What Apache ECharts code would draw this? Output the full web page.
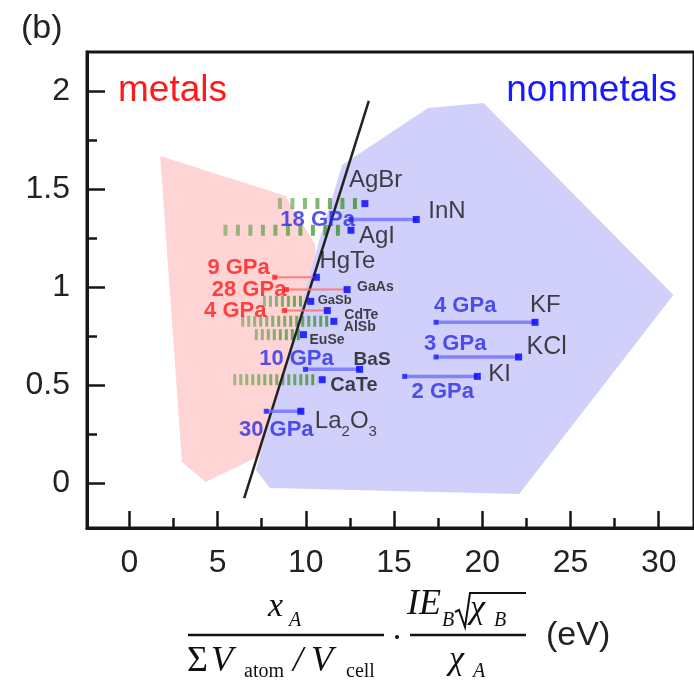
<!DOCTYPE html>
<html>
<head>
<meta charset="utf-8">
<script src="https://cdn.jsdelivr.net/npm/echarts@6/dist/echarts.min.js"></script>
<style>
  html, body { margin: 0; padding: 0; background: #fff; }
  #chart { width: 694px; height: 680px; }
</style>
</head>
<body>
<div id="chart"></div>
<script>
// Compounds plotted at their descriptor value (x, eV) and ordinate (y)
const compounds   = ['AgBr', 'InN', 'AgI', 'HgTe', 'GaAs', 'GaSb', 'CdTe', 'AlSb', 'EuSe', 'BaS', 'CaTe', 'La2O3', 'KF', 'KCl', 'KI'];
const descriptorX = [13.35, 16.26, 12.56, 10.60, 12.34, 10.28, 11.22, 11.59, 9.87, 13.05, 10.93, 9.72, 22.99, 22.06, 19.72];
const ordinateY   = [1.426, 1.345, 1.290, 1.050, 0.987, 0.927, 0.880, 0.825, 0.757, 0.580, 0.527, 0.366, 0.820, 0.643, 0.544];

// Descriptor shift under pressure: starting x and pressure reached
const shiftCompounds   = ['InN', 'HgTe', 'GaAs', 'CdTe', 'BaS', 'La2O3', 'KF', 'KCl', 'KI'];
const shiftStartX      = [12.56, 8.24, 8.90, 8.79, 9.98, 7.76, 17.38, 17.38, 15.60];
const shiftPressureGPa = [18, 9, 28, 4, 10, 30, 4, 3, 2];
const shiftMetallic    = [false, true, true, true, false, false, false, false, false];

// Spread of descriptor values (hatched ranges)
const rangeCompounds = ['AgBr', 'AgI', 'GaSb', 'AlSb', 'EuSe', 'CaTe'];
const rangeStartX    = [8.42, 5.33, 7.57, 6.34, 7.11, 5.89];
const rangeEndX      = [12.90, 12.17, 9.93, 11.38, 9.70, 10.66];

// Metal / nonmetal dividing line
const boundaryX = [6.51, 13.57];
const boundaryY = [-0.077, 1.95];

// Shaded regions
const metalsRegionX    = [1.75, 8.86, 10.54, 10.54, 6.90, 4.32, 2.98];
const metalsRegionY    = [1.669, 1.465, 1.215, 0.271, 0.117, 0.005, 0.107];
const nonmetalsRegionX = [12.06, 16.93, 20.07, 30.83, 22.09, 7.97, 7.18, 10.77];
const nonmetalsRegionY = [1.623, 1.914, 1.940, 0.960, -0.056, -0.026, 0.066, 1.240];

// Axis ticks
const xMajorTicks = [0, 5, 10, 15, 20, 25, 30];
const xMinorTicks = [2.5, 7.5, 12.5, 17.5, 22.5, 27.5];
const yMajorTicks = [0, 0.5, 1, 1.5, 2];
const yMinorTicks = [0.25, 0.75, 1.25, 1.75];

const SANS = '"Liberation Sans", Arial, sans-serif';
const SERIF = '"Liberation Serif", "Times New Roman", serif';
const INK = '#161616';
const RED = '#ff1a1a';
const BLUE = '#1a1aff';

// Label placement around each compound marker (pixels)
const nameLayout = {
  AgBr:  { dx: -16, dy: -23, size: 24 },
  InN:   { dx: 12,  dy: -8,  size: 24 },
  AgI:   { dx: 8,   dy: 6,   size: 24 },
  HgTe:  { dx: 3,   dy: -16, size: 24 },
  GaAs:  { dx: 10,  dy: -2,  size: 14, bold: true },
  GaSb:  { dx: 7,   dy: -1,  size: 13, bold: true },
  CdTe:  { dx: 17,  dy: 5,   size: 14, bold: true },
  AlSb:  { dx: 10,  dy: 6,   size: 14, bold: true },
  EuSe:  { dx: 6,   dy: 5,   size: 14, bold: true },
  BaS:   { dx: -6,  dy: -10, size: 19, bold: true },
  CaTe:  { dx: 8,   dy: 6,   size: 20, bold: true },
  La2O3: { dx: 14,  dy: 10,  size: 24 },
  KF:    { dx: -5,  dy: -17, size: 24 },
  KCl:   { dx: 8,   dy: -10, size: 25 },
  KI:    { dx: 11,  dy: -2,  size: 24 }
};
// Pressure label placement relative to the start of each shift
const pressureLayout = {
  InN:   { align: 'right',  dx: 4,   dy: 0 },
  HgTe:  { align: 'right',  dx: -5,  dy: -9 },
  GaAs:  { align: 'right',  dx: 0,   dy: 0 },
  CdTe:  { align: 'right',  dx: -18, dy: 0 },
  BaS:   { align: 'center', dx: -9,  dy: -10 },
  La2O3: { align: 'center', dx: 10,  dy: 19 },
  KF:    { align: 'left',   dx: -2,  dy: -16 },
  KCl:   { align: 'left',   dx: -12, dy: -13 },
  KI:    { align: 'left',   dx: 7,   dy: 16 }
};
const sparseHatch = new Set(['AgBr', 'AgI']);

const yOf = name => ordinateY[compounds.indexOf(name)];
const zip = (xs, ys) => xs.map((x, i) => [x, ys[i]]);

function regionSeries(xs, ys, fill) {
  const pts = zip(xs, ys);
  return {
    type: 'custom', coordinateSystem: 'cartesian2d', silent: true, z: 1,
    data: pts,
    renderItem(params, api) {
      if (params.dataIndex !== 0) return;
      return { type: 'polygon', shape: { points: pts.map(p => api.coord(p)) }, style: { fill } };
    }
  };
}

const compoundData = compounds.map((name, i) => {
  const L = nameLayout[name];
  const isLa = name === 'La2O3';
  return {
    name, value: [descriptorX[i], ordinateY[i]],
    label: {
      show: true, position: 'inside', align: 'left', verticalAlign: 'middle',
      offset: [L.dx, L.dy], color: INK, fontFamily: SANS,
      fontSize: L.size, fontWeight: L.bold ? 'bold' : 'normal',
      formatter: isLa ? '{m|La}{s|2}{m|O}{s|3}' : name,
      rich: isLa ? {
        m: { fontSize: 24, fontFamily: SANS, color: INK, lineHeight: 28 },
        s: { fontSize: 15, fontFamily: SANS, color: INK, lineHeight: 15, verticalAlign: 'bottom', padding: [0, 0, -4, 0] }
      } : undefined
    }
  };
});

const shiftStartData = shiftCompounds.map((name, i) => {
  const L = pressureLayout[name];
  return {
    name, value: [shiftStartX[i], yOf(name)],
    itemStyle: { color: shiftMetallic[i] ? RED : BLUE },
    label: {
      show: true, position: 'inside', align: L.align, verticalAlign: 'middle',
      offset: [L.dx, L.dy], fontFamily: SANS, fontSize: 22, fontWeight: 'bold',
      color: shiftMetallic[i] ? RED : '#2a2ae8',
      formatter: shiftPressureGPa[i] + ' GPa'
    }
  };
});

const chart = echarts.init(document.getElementById('chart'), null, { renderer: 'canvas' });

const tickStyle = { color: INK, width: 2.5 };
const xBase = { type: 'value', min: -2.4, max: 32, splitLine: { show: false } };
const yBase = { type: 'value', min: -0.23, max: 2.2, splitLine: { show: false } };

chart.setOption({
  animation: false,
  backgroundColor: '#fff',
  grid: { left: 87, top: 52, width: 614, height: 476, show: true, borderColor: INK, borderWidth: 3, backgroundColor: 'transparent' },
  xAxis: [
    Object.assign({}, xBase, {
      position: 'bottom',
      axisLine: { show: true, onZero: false, lineStyle: { color: INK, width: 3 } },
      axisTick: { show: true, inside: true, length: 17, customValues: xMajorTicks, lineStyle: tickStyle },
      axisLabel: { customValues: xMajorTicks, fontSize: 32, color: '#222', fontFamily: SANS, margin: 19 }
    }),
    Object.assign({}, xBase, {
      position: 'bottom', offset: 0,
      axisLine: { show: false, onZero: false },
      axisTick: { show: true, inside: true, length: 10, customValues: xMinorTicks, lineStyle: tickStyle },
      axisLabel: { show: false }
    })
  ],
  yAxis: [
    Object.assign({}, yBase, {
      position: 'left',
      axisLine: { show: true, onZero: false, lineStyle: { color: INK, width: 3 } },
      axisTick: { show: true, inside: true, length: 18, customValues: yMajorTicks, lineStyle: tickStyle },
      axisLabel: { customValues: yMajorTicks, fontSize: 32, color: '#222', fontFamily: SANS, margin: 17 }
    }),
    Object.assign({}, yBase, {
      position: 'left', offset: 0,
      axisLine: { show: false, onZero: false },
      axisTick: { show: true, inside: true, length: 10, customValues: yMinorTicks, lineStyle: tickStyle },
      axisLabel: { show: false }
    })
  ],
  series: [
    regionSeries(metalsRegionX, metalsRegionY, '#ffd4d4'),
    regionSeries(nonmetalsRegionX, nonmetalsRegionY, '#d0d0fa'),
    {
      // hatched ranges
      type: 'custom', coordinateSystem: 'cartesian2d', silent: true, z: 2,
      data: rangeCompounds.map((name, i) => [rangeStartX[i], rangeEndX[i], yOf(name)]),
      renderItem(params, api) {
        const name = rangeCompounds[params.dataIndex];
        const a = api.coord([api.value(0), api.value(2)]);
        const b = api.coord([api.value(1), api.value(2)]);
        const sparse = sparseHatch.has(name);
        return {
          type: 'line',
          shape: { x1: a[0], y1: a[1], x2: b[0], y2: b[1] },
          style: {
            stroke: {
              type: 'linear', x: 0, y: 0, x2: 1, y2: 0,
              colorStops: [{ offset: 0, color: 'rgba(92,160,70,0.55)' }, { offset: 1, color: 'rgba(70,150,60,0.9)' }]
            },
            lineWidth: 11,
            lineDash: sparse ? [4, 8.5] : [3, 3],
            lineCap: 'butt'
          }
        };
      }
    },
    {
      // metal / nonmetal boundary
      type: 'line', z: 3, silent: true, symbol: 'none',
      data: zip(boundaryX, boundaryY),
      lineStyle: { color: '#222', width: 2.5 }
    },
    {
      // pressure shift lines
      type: 'custom', coordinateSystem: 'cartesian2d', silent: true, z: 4,
      data: shiftCompounds.map((name, i) => [shiftStartX[i], descriptorX[compounds.indexOf(name)], yOf(name)]),
      renderItem(params, api) {
        const metallic = shiftMetallic[params.dataIndex];
        const a = api.coord([api.value(0), api.value(2)]);
        const b = api.coord([api.value(1), api.value(2)]);
        return {
          type: 'line',
          shape: { x1: a[0], y1: a[1], x2: b[0], y2: b[1] },
          style: { stroke: metallic ? 'rgba(255,110,110,0.85)' : 'rgba(110,110,255,0.8)', lineWidth: metallic ? 2 : 3.5 }
        };
      }
    },
    {
      // pressure shift starting points with pressure labels
      type: 'scatter', z: 5, silent: true,
      symbol: 'rect', symbolSize: 5,
      data: shiftStartData
    },
    {
      // compounds
      type: 'scatter', z: 6, silent: true,
      symbol: 'rect', symbolSize: 7,
      itemStyle: { color: '#0000ff' },
      data: compoundData
    }
  ],
  graphic: [
    { type: 'text', x: 21, y: 29, style: { text: '(b)', font: '34px ' + SANS, fill: '#222', verticalAlign: 'middle' } },
    { type: 'text', x: 118, y: 91, style: { text: 'metals', font: '37px ' + SANS, fill: RED, verticalAlign: 'middle' } },
    { type: 'text', x: 677, y: 91, style: { text: 'nonmetals', font: '37px ' + SANS, fill: BLUE, align: 'right', verticalAlign: 'middle' } },

    // x-axis quantity: x_A / (Σ V_atom / V_cell) · IE_B √χ_B / χ_A (eV)
    { type: 'text', x: 268, y: 607, style: { text: 'x', font: 'italic 34px ' + SERIF, fill: '#111', verticalAlign: 'middle' } },
    { type: 'text', x: 289, y: 621, style: { text: 'A', font: 'italic 20px ' + SERIF, fill: '#111', verticalAlign: 'middle' } },
    { type: 'line', shape: { x1: 188, y1: 635, x2: 384, y2: 635 }, style: { stroke: '#111', lineWidth: 2.5 } },
    { type: 'text', x: 187, y: 662, style: { text: 'Σ', font: '36px ' + SERIF, fill: '#111', verticalAlign: 'middle' } },
    { type: 'text', x: 211, y: 662, style: { text: 'V', font: 'italic 36px ' + SERIF, fill: '#111', verticalAlign: 'middle' } },
    { type: 'text', x: 244, y: 672, style: { text: 'atom', font: '20px ' + SERIF, fill: '#111', verticalAlign: 'middle' } },
    { type: 'text', x: 293, y: 662, style: { text: '/', font: 'italic 36px ' + SERIF, fill: '#111', verticalAlign: 'middle' } },
    { type: 'text', x: 311, y: 662, style: { text: 'V', font: 'italic 36px ' + SERIF, fill: '#111', verticalAlign: 'middle' } },
    { type: 'text', x: 346, y: 672, style: { text: 'cell', font: '20px ' + SERIF, fill: '#111', verticalAlign: 'middle' } },
    { type: 'circle', shape: { cx: 397, cy: 637, r: 2 }, style: { fill: '#111' } },
    { type: 'text', x: 407, y: 605, style: { text: 'IE', font: 'italic 36px ' + SERIF, fill: '#111', verticalAlign: 'middle' } },
    { type: 'text', x: 442, y: 621, style: { text: 'B', font: 'italic 20px ' + SERIF, fill: '#111', verticalAlign: 'middle' } },
    { type: 'polyline', shape: { points: [[455, 612], [459, 610], [465, 627], [470, 593], [526, 593]] }, style: { stroke: '#111', lineWidth: 2, fill: null } },
    { type: 'text', x: 470, y: 609, style: { text: 'χ', font: 'italic 34px ' + SERIF, fill: '#111', verticalAlign: 'middle' } },
    { type: 'text', x: 494, y: 621, style: { text: 'B', font: 'italic 20px ' + SERIF, fill: '#111', verticalAlign: 'middle' } },
    { type: 'line', shape: { x1: 410, y1: 635, x2: 526, y2: 635 }, style: { stroke: '#111', lineWidth: 2.5 } },
    { type: 'text', x: 449, y: 660, style: { text: 'χ', font: 'italic 34px ' + SERIF, fill: '#111', verticalAlign: 'middle' } },
    { type: 'text', x: 473, y: 672, style: { text: 'A', font: 'italic 20px ' + SERIF, fill: '#111', verticalAlign: 'middle' } },
    { type: 'text', x: 546, y: 636, style: { text: '(eV)', font: '34px ' + SANS, fill: '#222', verticalAlign: 'middle' } }
  ]
});
</script>
</body>
</html>
